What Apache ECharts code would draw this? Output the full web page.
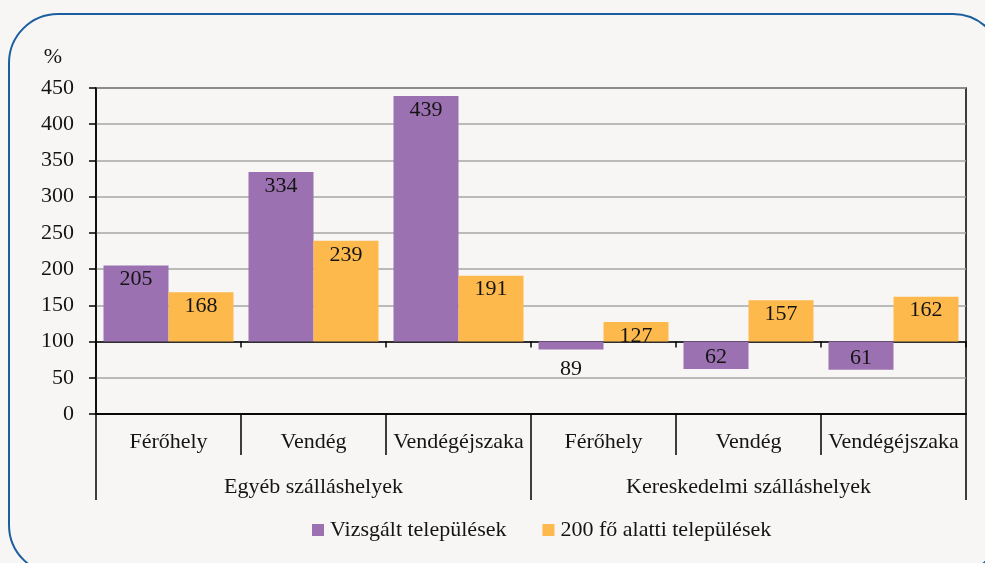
<!DOCTYPE html>
<html>
<head>
<meta charset="utf-8">
<script src="https://cdn.jsdelivr.net/npm/echarts@6/dist/echarts.min.js"></script>
<style>
  html, body { margin: 0; padding: 0; background: #f7f6f4; }
  #chart { width: 985px; height: 563px; }
</style>
</head>
<body>
<div id="chart"></div>
<script>
// adatok
const categories = ['Férőhely', 'Vendég', 'Vendégéjszaka', 'Férőhely', 'Vendég', 'Vendégéjszaka'];
const groups = ['Egyéb szálláshelyek', 'Kereskedelmi szálláshelyek'];
const vizsgalt = [205, 334, 439, 89, 62, 61];
const alatti200 = [168, 239, 191, 127, 157, 162];
const baseValue = 100; // bars start from the 100 line

const font = 'Liberation Serif';
const fontSize = 22;
const textColor = '#141414';

// value -> bar item relative to the 100 baseline, label keeps the original value
function toItems(values) {
  return values.map(function (v) {
    let pos = 'insideTop';
    let dist = 3;
    if (v < baseValue) {
      if (baseValue - v < 20) { pos = 'bottom'; dist = 9; }
      else { pos = 'insideBottom'; dist = 1; }
    }
    return {
      value: v - baseValue,
      label: { position: pos, distance: dist }
    };
  });
}

function labelOf(values) {
  return {
    show: true,
    fontFamily: font,
    fontSize: fontSize,
    color: textColor,
    formatter: function (p) { return values[p.dataIndex]; }
  };
}

const chart = echarts.init(document.getElementById('chart'));
chart.setOption({
  backgroundColor: '#f7f6f4',
  animation: false,
  textStyle: { fontFamily: font },
  graphic: [{
    type: 'rect',
    shape: { x: 9, y: 14, width: 993, height: 560, r: 49 },
    style: { fill: 'none', stroke: '#1b5e9f', lineWidth: 2 },
    z: -1
  }],
  grid: {
    left: 96, right: 19, top: 88, bottom: 149,
    show: true, borderColor: '#000', borderWidth: 1.5
  },
  legend: {
    bottom: 17,
    left: 307,
    icon: 'rect',
    itemWidth: 12,
    itemHeight: 12,
    itemGap: 36,
    textStyle: { fontFamily: font, fontSize: fontSize, color: textColor, padding: [0, 0, 0, 1] }
  },
  xAxis: [
    {
      type: 'category',
      data: categories,
      position: 'bottom',
      axisLine: { onZero: true, lineStyle: { color: '#000', width: 1.5 } },
      axisTick: { show: true, interval: 0, length: 6, lineStyle: { color: '#000', width: 1.5 } },
      axisLabel: { show: false }
    },
    {
      type: 'category',
      data: categories,
      position: 'bottom',
      axisLine: { onZero: false, lineStyle: { color: '#000', width: 1.5 } },
      axisTick: { show: true, interval: 0, length: 41, lineStyle: { color: '#000', width: 1.5 } },
      axisLabel: { interval: 0, margin: 17, fontFamily: font, fontSize: fontSize, color: textColor }
    },
    {
      type: 'category',
      data: groups,
      position: 'bottom',
      axisLine: { onZero: false, lineStyle: { color: '#000', width: 1.5 } },
      axisTick: { show: true, interval: 0, length: 86, lineStyle: { color: '#000', width: 1.5 } },
      axisLabel: { interval: 0, margin: 62, fontFamily: font, fontSize: fontSize, color: textColor }
    }
  ],
  yAxis: {
    type: 'value',
    min: -100,
    max: 350,
    interval: 50,
    name: '%',
    nameGap: 20,
    nameTextStyle: { fontFamily: font, fontSize: fontSize, color: textColor, align: 'right', padding: [0, 34, 0, 0] },
    axisLine: { show: true, lineStyle: { color: '#000', width: 1.5 } },
    axisTick: { show: true, length: 7, lineStyle: { color: '#000', width: 1.5 } },
    axisLabel: {
      margin: 22,
      fontFamily: font,
      fontSize: fontSize,
      color: textColor,
      formatter: function (v) { return v + baseValue; }
    },
    splitLine: { lineStyle: { color: '#a6a6a6', width: 1.5 } }
  },
  series: [
    {
      name: 'Vizsgált települések',
      type: 'bar',
      barWidth: 65,
      barGap: '0%',
      itemStyle: { color: '#9b71b1' },
      label: labelOf(vizsgalt),
      data: toItems(vizsgalt)
    },
    {
      name: '200 fő alatti települések',
      type: 'bar',
      barWidth: 65,
      barGap: '0%',
      itemStyle: { color: '#fdb94b' },
      label: labelOf(alatti200),
      data: toItems(alatti200)
    }
  ]
});
</script>
</body>
</html>
